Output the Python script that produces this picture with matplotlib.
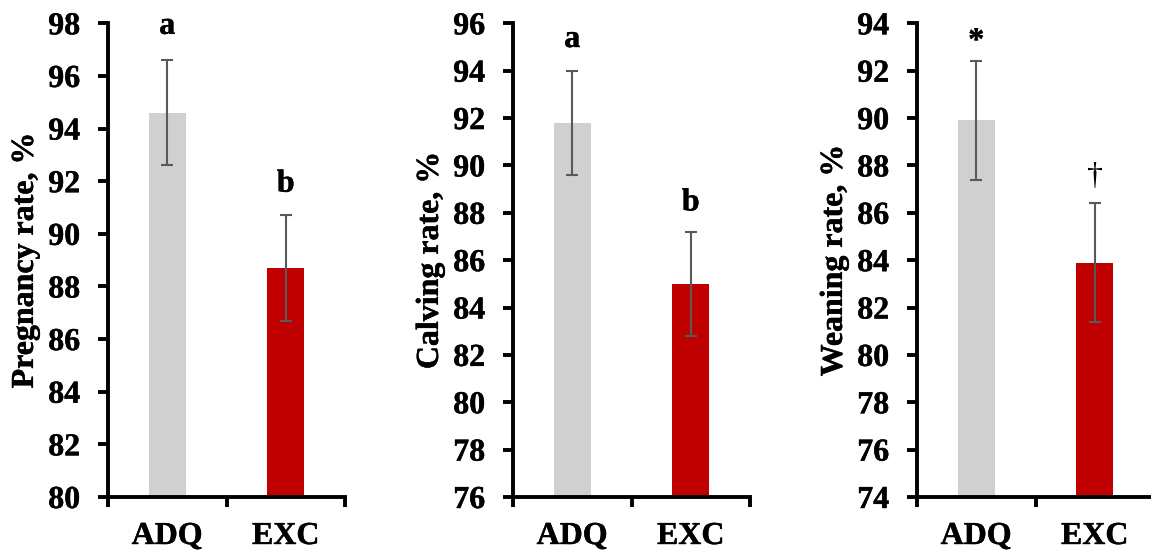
import numpy as np
import matplotlib
matplotlib.use("Agg")
import matplotlib.pyplot as plt
import matplotlib.patheffects as pe

plt.rcParams["font.family"] = ["Liberation Serif", "DejaVu Serif"]
plt.rcParams["font.weight"] = "bold"

# data
groups = ["ADQ", "EXC"]
bar_colors = ["#D0D0D0", "#C00000"]

pregnancy = [94.6, 88.7]
pregnancy_err = [2.0, 2.0]
calving = [91.8, 85.0]
calving_err = [2.2, 2.2]
weaning = [89.9, 83.9]
weaning_err = [2.5, 2.5]

ylabels = ["Pregnancy rate, %", "Calving rate, %", "Weaning rate, %"]
ylims = [(80, 98), (76, 96), (74, 94)]
marks = [["a", "b"], ["a", "b"], ["*", "\u2020"]]
mark_y = [[97.6, 91.6], [95.0, 88.1], [92.9, 87.2]]

values = [pregnancy, calving, weaning]
errors = [pregnancy_err, calving_err, weaning_err]

# slightly heavier text, the reference font looks thicker
heavy = [pe.withStroke(linewidth=0.3, foreground="black")]

fig = plt.figure(figsize=(11.51, 5.5), dpi=100)
lefts = [108 / 1151, 513 / 1151, 917 / 1151]
bottom = 1 - 497 / 550
height = (497 - 23.3) / 550
width = 237 / 1151

x = np.arange(len(groups))
for i in range(3):
    ax = fig.add_axes([lefts[i], bottom, width, height])
    ax.bar(x, values[i], width=0.31, color=bar_colors, zorder=2)
    ax.errorbar(x, values[i], yerr=errors[i], fmt="none", ecolor="#595959",
                elinewidth=1.5, capsize=4.5, capthick=1.5, zorder=3)
    for j in range(len(groups)):
        m = marks[i][j]
        # the dagger is a thin glyph in the reference
        if m == "\u2020":
            ax.text(x[j], mark_y[i][j], m, ha="center", va="baseline",
                    fontsize=23, fontweight="normal", clip_on=False)
        else:
            ax.text(x[j], mark_y[i][j], m, ha="center", va="baseline",
                    fontsize=23, fontweight="bold", clip_on=False,
                    path_effects=heavy)

    ax.set_xlim(-0.5, 1.5)
    ax.set_ylim(*ylims[i])
    ax.set_yticks(np.arange(ylims[i][0], ylims[i][1] + 1, 2))
    ax.tick_params(axis="y", direction="out", length=7, width=2.8,
                   labelsize=23, pad=13)
    # category boundaries as major ticks, names as minor tick labels
    ax.set_xticks([-0.5, 0.5, 1.5])
    ax.set_xticklabels([])
    ax.set_xticks(x, minor=True)
    ax.set_xticklabels(groups, minor=True)
    ax.tick_params(axis="x", which="major", direction="out", length=7, width=2.8)
    ax.tick_params(axis="x", which="minor", length=0, labelsize=23, pad=18)
    for lab in ax.get_xticklabels(minor=True) + ax.get_yticklabels():
        lab.set_fontweight("bold")
        lab.set_path_effects(heavy)

    ax.spines["top"].set_visible(False)
    ax.spines["right"].set_visible(False)
    ax.spines["left"].set_linewidth(2.8)
    ax.spines["bottom"].set_linewidth(2.8)
    ylab = ax.set_ylabel(ylabels[i], fontsize=23, fontweight="bold", labelpad=6)
    ylab.set_path_effects(heavy)

fig.savefig("out.png", dpi=100)
